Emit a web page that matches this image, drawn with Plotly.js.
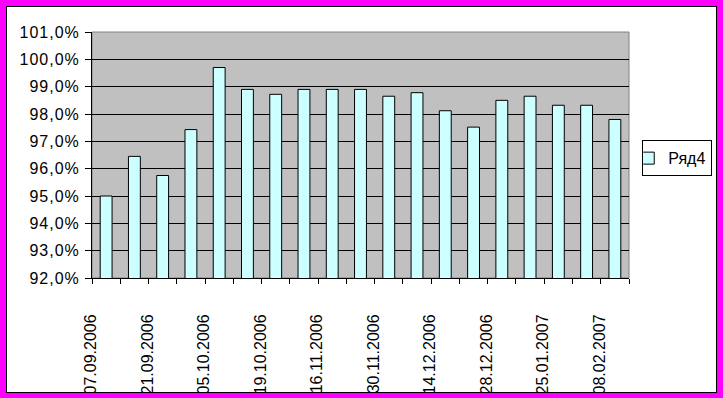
<!DOCTYPE html>
<html>
<head>
<meta charset="utf-8">
<script src="https://cdn.plot.ly/plotly-3.0.1.min.js"></script>
<style>
  html, body { margin: 0; padding: 0; width: 723px; height: 398px; background: #FF00FF; overflow: hidden; }
  #frame { position: absolute; left: 6px; top: 6px; width: 711px; height: 387px; box-sizing: border-box;
           border: 1px solid #000; background: #fff; overflow: hidden; }
  #plot { position: absolute; left: -7px; top: -7px; width: 723px; height: 398px; }
  #plot .ytick text { letter-spacing: 1px; }
</style>
</head>
<body>
<div id="frame"><div id="plot"></div></div>
<script>
// Series "Ряд4", 19 bars (values in %)
const seriesName = 'Ряд4';
const values = [95.0, 96.45, 95.75, 97.43, 99.7, 98.9, 98.72, 98.9, 98.9, 98.9,
                98.65, 98.78, 98.12, 97.52, 98.5, 98.65, 98.32, 98.32, 97.8];
// Tick labels shown on every second category boundary
const tickLabels = ['07.09.2006', '21.09.2006', '05.10.2006', '19.10.2006', '16.11.2006',
                    '30.11.2006', '14.12.2006', '28.12.2006', '25.01.2007', '08.02.2007'];
const yTicks = [92, 93, 94, 95, 96, 97, 98, 99, 100, 101];
const yTickText = ['92,0%', '93,0%', '94,0%', '95,0%', '96,0%', '97,0%', '98,0%', '99,0%', '100,0%', '101,0%'];

const xPos = values.map((_, i) => i + 1);
const tickVals = [];
const tickText = [];
for (let i = 0; i <= values.length; i++) {
  tickVals.push(i + 0.5);
  tickText.push(i % 2 === 0 && tickLabels[i / 2] !== undefined ? tickLabels[i / 2] : '');
}

const trace = {
  type: 'bar',
  name: seriesName,
  x: xPos,
  y: values,
  width: 0.42,
  marker: { color: '#CCFFFF', line: { color: '#000000', width: 1 } },
  showlegend: true,
  hoverinfo: 'skip'
};

const font = { family: '"Liberation Sans", Arial, sans-serif', color: '#000' };

const layout = {
  width: 723, height: 398,
  margin: { l: 92, r: 94, t: 32, b: 120, pad: 0, autoexpand: false },
  paper_bgcolor: 'rgba(0,0,0,0)',
  plot_bgcolor: '#C0C0C0',
  font: font,
  xaxis: {
    range: [0.5, values.length + 0.5],
    tickmode: 'array', tickvals: tickVals, ticktext: tickText,
    tickangle: -90, ticks: 'outside', ticklen: 5, tickcolor: '#000', tickwidth: 1,
    ticklabelstandoff: 24, ticklabelshift: -1,
    tickfont: Object.assign({}, font, { size: 16 }),
    showline: true, linecolor: '#000', linewidth: 1,
    showgrid: false, zeroline: false, fixedrange: true
  },
  yaxis: {
    range: [92, 101],
    tickmode: 'array', tickvals: yTicks, ticktext: yTickText,
    ticks: 'outside', ticklen: 6, tickcolor: '#000', tickwidth: 1,
    ticklabelstandoff: 2,
    tickfont: Object.assign({}, font, { size: 16 }),
    showline: true, linecolor: '#000', linewidth: 1,
    showgrid: true, gridcolor: '#000', gridwidth: 1,
    zeroline: false, fixedrange: true
  },
  shapes: [{
    type: 'rect', xref: 'paper', yref: 'paper', x0: 0, x1: 1, y0: 0, y1: 1,
    line: { color: '#808080', width: 1 }, fillcolor: 'rgba(0,0,0,0)', layer: 'below'
  }],
  legend: {
    x: 1.155, xanchor: 'right', y: 0.56, yanchor: 'top',
    bgcolor: '#fff', bordercolor: '#000', borderwidth: 1,
    font: Object.assign({}, font, { size: 16 }),
    itemwidth: 30, tracegroupgap: 0, indentation: -15
  },
  bargap: 0.58
};

Plotly.newPlot('plot', [trace], layout, { staticPlot: true, displayModeBar: false });
</script>
</body>
</html>
